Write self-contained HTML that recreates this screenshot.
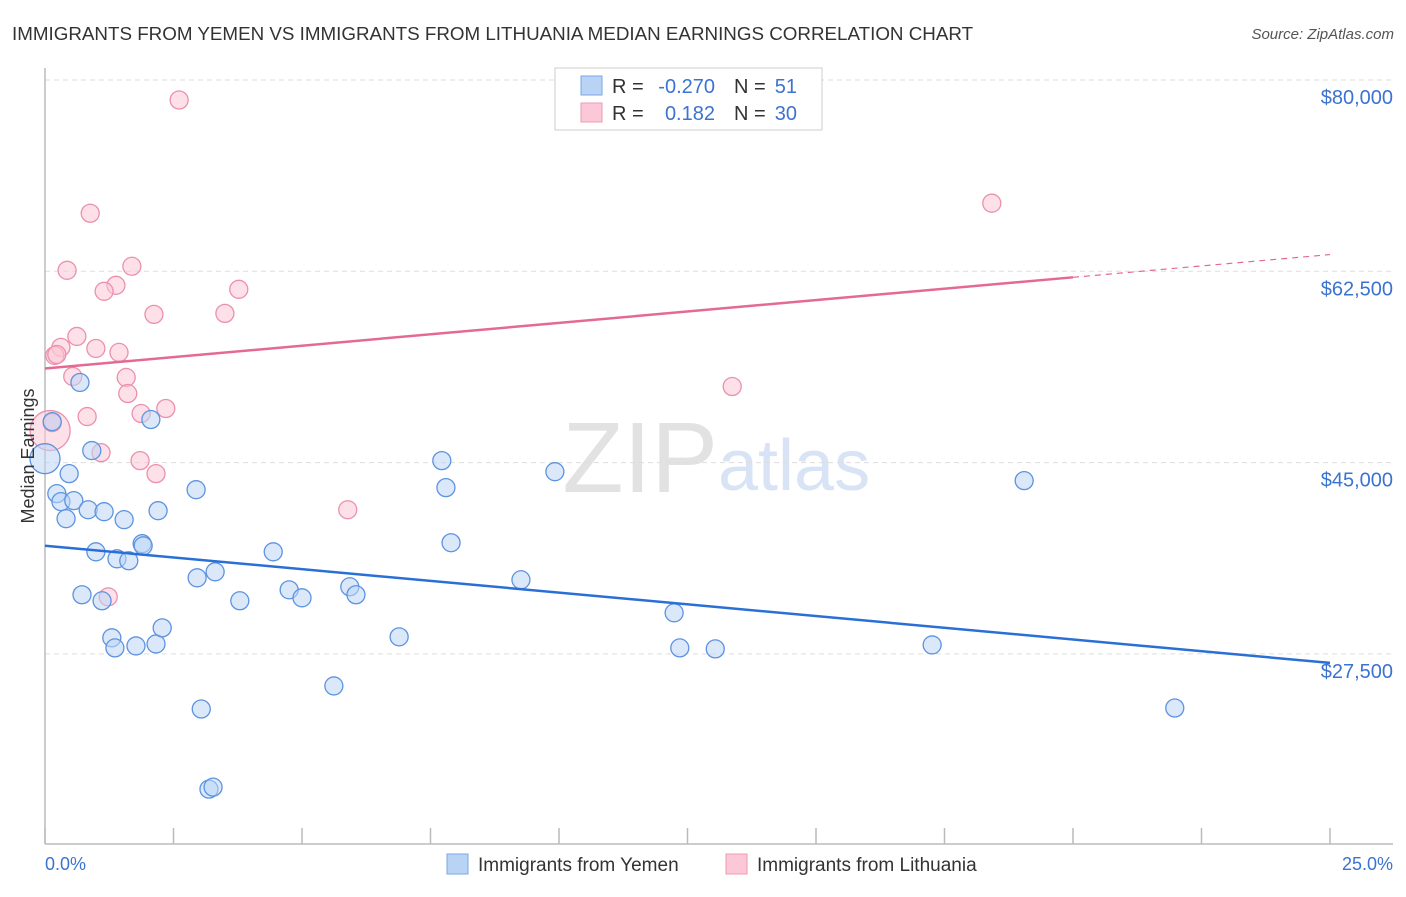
<!DOCTYPE html>
<html><head><meta charset="utf-8"><style>
body{margin:0;background:#fff;font-family:"Liberation Sans",sans-serif;}
svg text{font-family:"Liberation Sans",sans-serif;}
</style></head><body>
<svg id="chart" width="1406" height="892" xmlns="http://www.w3.org/2000/svg">
<text x="12" y="40" font-size="18.8" fill="#333">IMMIGRANTS FROM YEMEN VS IMMIGRANTS FROM LITHUANIA MEDIAN EARNINGS CORRELATION CHART</text>
<text x="1394" y="39" font-size="15" fill="#555" text-anchor="end" font-style="italic">Source: ZipAtlas.com</text>
<text x="718" y="492" font-size="100" text-anchor="end" fill="#e2e2e2" font-family="Liberation Serif">ZIP</text>
<text x="718" y="490" font-size="72" fill="#d8e4f5">atlas</text>
<g id="grid"></g><g id="axes"></g><g id="marks"></g>
<text transform="translate(34,456) rotate(-90)" font-size="18" fill="#333" text-anchor="middle">Median Earnings</text>
<text x="45" y="870" font-size="18" fill="#3b73d1">0.0%</text>
<text x="1393" y="870" font-size="18" fill="#3b73d1" text-anchor="end">25.0%</text>
<g>
<rect x="555" y="68" width="267" height="62" fill="#fff" stroke="#ccc"/>
<rect x="581" y="76" width="21" height="19" fill="#b9d3f5" stroke="#7aa6e6"/>
<rect x="581" y="103" width="21" height="19" fill="#fcc8d8" stroke="#ee9ab5"/>
<text x="612" y="93" font-size="20" fill="#333">R =</text>
<text x="715" y="93" font-size="20" fill="#3b73d1" text-anchor="end">-0.270</text>
<text x="734" y="93" font-size="20" fill="#333">N =</text>
<text x="797" y="93" font-size="20" fill="#3b73d1" text-anchor="end">51</text>
<text x="612" y="120" font-size="20" fill="#333">R =</text>
<text x="715" y="120" font-size="20" fill="#3b73d1" text-anchor="end">0.182</text>
<text x="734" y="120" font-size="20" fill="#333">N =</text>
<text x="797" y="120" font-size="20" fill="#3b73d1" text-anchor="end">30</text>
</g>
<g>
<rect x="447" y="854" width="21" height="20" fill="#b9d3f5" stroke="#7aa6e6"/>
<text x="478" y="871" font-size="19" fill="#333">Immigrants from Yemen</text>
<rect x="726" y="854" width="21" height="20" fill="#fcc8d8" stroke="#ee9ab5"/>
<text x="757" y="871" font-size="19" fill="#333">Immigrants from Lithuania</text>
</g>
</svg>
<script>
const yTicks=[80000,62500,45000,27500];
const yTickLabels=["$80,000","$62,500","$45,000","$27,500"];
const xTicks=[0,2.5,5,7.5,10,12.5,15,17.5,20,22.5,25];
const yemenX=[0,0.14,0.68,0.91,0.47,0.23,0.31,0.56,0.84,1.15,0.41,1.54,2.06,2.2,2.94,1.89,1.91,0.99,1.4,1.63,0.72,1.11,1.3,1.36,1.77,2.16,2.28,2.96,3.31,3.79,3.04,3.19,3.27,4.44,4.75,5.0,5.62,5.93,6.05,6.89,7.72,7.8,7.9,9.26,9.92,12.24,12.35,13.04,17.26,19.05,21.98];
const yemenY=[45360,48750,52330,46100,43990,42160,41430,41520,40690,40510,39870,39780,48940,40600,42520,37580,37390,36840,36200,36020,32910,32360,28970,28050,28230,28410,29880,34460,35010,32360,22460,15130,15310,36840,33360,32630,24570,33640,32910,29060,45180,42710,37670,34280,44170,31260,28050,27960,28320,43350,22550];
const yemenR=[15,9,9,9,9,9,9,9,9,9,9,9,9,9,9,9,9,9,9,9,9,9,9,9,9,9,9,9,9,9,9,9,9,9,9,9,9,9,9,9,9,9,9,9,9,9,9,9,9,9,9];
const lithX=[2.61,0.88,0.43,1.69,1.38,1.15,3.77,2.12,3.5,0.62,0.31,0.99,1.44,0.19,0.1,0.54,1.58,1.61,0.82,1.87,2.35,1.09,1.85,2.16,5.89,1.23,13.37,18.42,0.14,0.23];
const lithY=[78170,67810,62590,62960,61220,60670,60850,58560,58650,56540,55540,55440,55080,54800,47930,52880,52790,51320,49210,49490,49950,45910,45180,43990,40690,32720,51960,68730,48660,54890];
const lithR=[9,9,9,9,9,9,9,9,9,9,9,9,9,9,20,9,9,9,9,9,9,9,9,9,9,9,9,9,9,9];
const yemenTrend=[[0,37395],[25,26675]];
const lithTrendSolid=[[0,53610],[20,61950]];
const lithTrendDashed=[[20,61950],[25,64030]];
const NS="http://www.w3.org/2000/svg";
const X0=45,X1=1330,YTOP=80,YBOT=844;
function sx(v){return X0+v/25*(X1-X0);}
function sy(v){return YTOP+(80000-v)*191.3/17500;}
function mk(tag,attrs,parent){const e=document.createElementNS(NS,tag);for(const k in attrs)e.setAttribute(k,attrs[k]);parent.appendChild(e);return e;}
const grid=document.getElementById('grid'),axes=document.getElementById('axes'),marks=document.getElementById('marks');
yTicks.forEach((t,i)=>{
 const l=mk('line',{x1:X0,x2:1393,y1:sy(t),y2:sy(t),stroke:'#ddd','stroke-dasharray':'5,4'},grid);
 
 
 const tx=mk('text',{x:1393,y:sy(t)+24,'font-size':20,fill:'#3b73d1','text-anchor':'end'},axes);
 tx.textContent=yTickLabels[i];
 
 
});
const ax=mk('line',{x1:X0,x2:X0,y1:68,y2:YBOT,stroke:'#bbb','stroke-width':1.5},axes);


const bx=mk('line',{x1:X0,x2:1393,y1:YBOT,y2:YBOT,stroke:'#bbb','stroke-width':1.5},axes);


xTicks.forEach(t=>{
 const l=mk('line',{x1:sx(t),x2:sx(t),y1:828,y2:YBOT,stroke:'#bbb','stroke-width':1.5},axes);
 
 
});
function dots(xs,ys,rs,fill,stroke,name){
 xs.forEach((x,i)=>{
  const c=mk('circle',{cx:sx(x),cy:sy(ys[i]),r:rs[i],fill:fill,'fill-opacity':0.55,stroke:stroke,'stroke-width':1.3},marks);
  
  
 });
}
dots(lithX,lithY,lithR,'#fbc6d6','#eb90ae','lithuania-point');
dots(yemenX,yemenY,yemenR,'#bcd5f6','#5d93e0','yemen-point');
function line(p,stroke,w,dash,name){
 const l=mk('line',{x1:sx(p[0][0]),y1:sy(p[0][1]),x2:sx(p[1][0]),y2:sy(p[1][1]),stroke:stroke,'stroke-width':w},marks);
 if(dash)l.setAttribute('stroke-dasharray',dash);
 
 
}
line(yemenTrend,'#2a6fd6',2.5,null,'yemen-trend-line');
line(lithTrendSolid,'#e46a93',2.5,null,'lithuania-trend-line');
line(lithTrendDashed,'#e46a93',1.2,'6,5','lithuania-trend-extension');
</script>
</body></html>
